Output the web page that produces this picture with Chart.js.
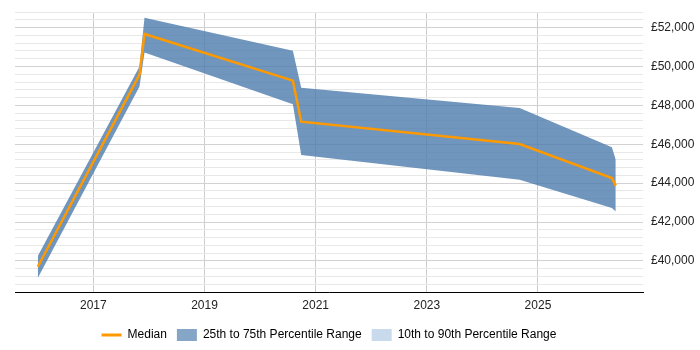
<!DOCTYPE html>
<html>
<head>
<meta charset="utf-8">
<script src="https://cdn.jsdelivr.net/npm/chart.js@4/dist/chart.umd.min.js"></script>
<style>
  html, body { margin: 0; padding: 0; background: #fff; }
  #wrap { width: 700px; height: 350px; }
</style>
</head>
<body>
<div id="wrap"><canvas id="salaryChart"></canvas></div>
<script>
// points in time (decimal years) and salary percentiles
const years    = [2016.0, 2017.83, 2017.92, 2020.59, 2020.74, 2024.67, 2026.33, 2026.40];
const median   = [39700, 49580, 51670, 49270, 47160, 46010, 44260, 43870];
const upper75  = [40250, 50000, 52500, 50810, 48910, 47860, 45840, 45200];
const lower25  = [39120, 48970, 50720, 48050, 45440, 44170, 42720, 42540];
const xTickYears = [2017, 2019, 2021, 2023, 2025];
const legendNames = ['Median', '25th to 75th Percentile Range', '10th to 90th Percentile Range'];

const orange = '#ff9900';
const band = 'rgba(76, 124, 172, 0.8)';
const lightBand = '#c8daec';

function toPoints(vals) {
  return vals.map((v, i) => ({ x: years[i], y: v }));
}

const ctx = document.getElementById('salaryChart').getContext('2d');
new Chart(ctx, {
  type: 'line',
  data: {
    datasets: [
      {
        label: legendNames[0],
        data: toPoints(median),
        borderColor: orange,
        borderWidth: 2.5,
        pointRadius: 0,
        fill: false,
        tension: 0
      },
      {
        label: legendNames[1],
        data: toPoints(upper75),
        borderWidth: 0,
        borderColor: 'rgba(0,0,0,0)',
        backgroundColor: band,
        pointRadius: 0,
        fill: '+1',
        tension: 0
      },
      {
        label: '25th',
        data: toPoints(lower25),
        borderWidth: 0,
        borderColor: 'rgba(0,0,0,0)',
        pointRadius: 0,
        fill: false,
        tension: 0
      },
      {
        label: legendNames[2],
        data: [],
        backgroundColor: lightBand,
        pointRadius: 0
      }
    ]
  },
  options: {
    responsive: true,
    maintainAspectRatio: false,
    animation: false,
    layout: { padding: { left: 15, right: 0, top: 12, bottom: -1 } },
    font: { family: '"Liberation Sans", Arial, sans-serif' },
    scales: {
      x: {
        type: 'linear',
        min: 2015.59,
        max: 2026.89,
        afterBuildTicks: function(axis) {
          axis.ticks = xTickYears.map(y => ({ value: y }));
        },
        afterFit: function(axis) { axis.height = 27; },
        ticks: {
          color: '#222',
          font: { size: 12, family: '"Liberation Sans", Arial, sans-serif' },
          padding: 6,
          maxRotation: 0,
          callback: function(value) { return String(value); }
        },
        grid: { color: '#cccccc', drawTicks: false },
        border: { display: true, color: '#000000', width: 1 }
      },
      y: {
        position: 'right',
        min: 38400,
        max: 52800,
        afterFit: function(axis) {
          axis.width = 57;
          axis.paddingTop = 0;
          axis.paddingBottom = 0;
        },
        ticks: {
          stepSize: 400,
          autoSkip: false,
          color: '#222',
          padding: 8,
          font: { size: 12, family: '"Liberation Sans", Arial, sans-serif' },
          callback: function(value) {
            return value % 2000 === 0 ? '£' + value.toLocaleString('en-GB') : '';
          }
        },
        grid: {
          drawTicks: false,
          color: function(c) {
            return c.tick && c.tick.value % 2000 === 0 ? '#d2d2d2' : '#e8e8e8';
          }
        },
        border: { display: false }
      }
    },
    plugins: {
      tooltip: { enabled: false },
      legend: {
        position: 'bottom',
        fullSize: false,
        labels: {
          usePointStyle: true,
          pointStyleWidth: 20,
          boxHeight: 14,
          padding: 10,
          color: '#222',
          font: { size: 12, family: '"Liberation Sans", Arial, sans-serif' },
          generateLabels: function(chart) {
            return [
              { text: legendNames[0], pointStyle: 'line', strokeStyle: orange, fillStyle: orange, lineWidth: 3, datasetIndex: 0 },
              { text: legendNames[1], pointStyle: 'rect', fillStyle: 'rgba(76,124,172,0.68)', strokeStyle: 'rgba(0,0,0,0)', lineWidth: 0, datasetIndex: 1 },
              { text: legendNames[2], pointStyle: 'rect', fillStyle: lightBand, strokeStyle: 'rgba(0,0,0,0)', lineWidth: 0, datasetIndex: 3 }
            ];
          }
        }
      }
    }
  }
});
</script>
</body>
</html>
